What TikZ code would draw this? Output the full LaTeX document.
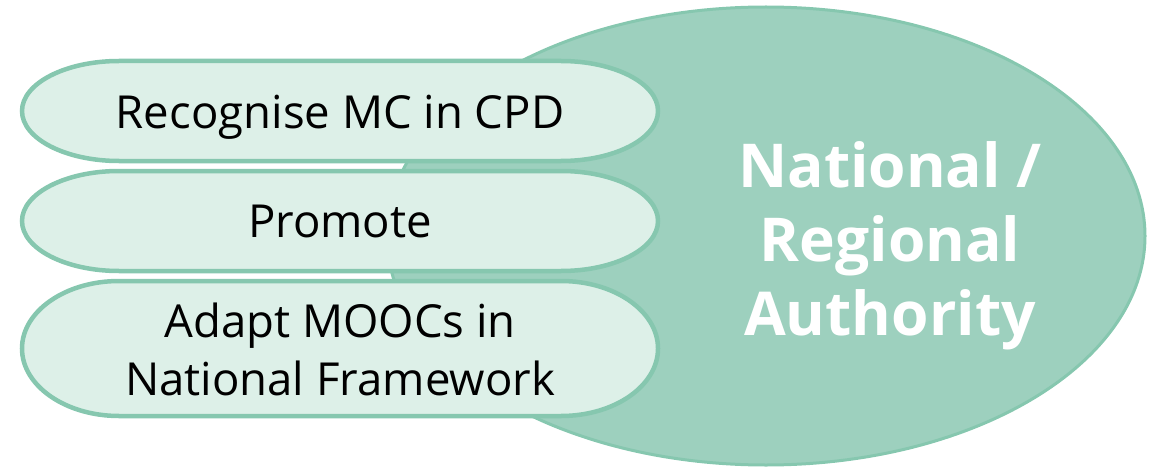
\documentclass[tikz,border=0pt]{standalone}
\usepackage{fontspec}
\setmainfont{Open Sans}
\usetikzlibrary{shapes.geometric}
\definecolor{mintfill}{HTML}{DDF0E8}
\definecolor{mintline}{HTML}{86C7AF}
\definecolor{authfill}{HTML}{9DD0BE}
\tikzset{
  pill/.style={draw=mintline, fill=mintfill, line width=4.5pt},
  pilltext/.style={anchor=base, align=center, font=\fontsize{45.5}{58}\selectfont, text=black},
  authority/.style={ellipse, draw=mintline, fill=authfill, line width=3pt, inner sep=0pt},
}
\begin{document}
\begin{tikzpicture}[x=1pt, y=1pt]
  \useasboundingbox (0,0) rectangle (1155,472);
  % big ellipse behind the pills
  \node[authority, minimum width=758pt, minimum height=458pt] (auth) at (766,236) {};
  \node[anchor=base, align=center, text=white, font=\bfseries\fontsize{60.5}{74}\selectfont] (authtext) at (890,137) {National /\\Regional\\Authority};
  % the three pills: centre y / half height
  \foreach \cy/\ry in {361/50, 251/50, 123.5/67.5}{
    \draw[pill] (119,\cy+\ry) -- (561,\cy+\ry)
      arc[start angle=90, end angle=-90, x radius=97, y radius=\ry]
      -- (119,\cy-\ry)
      arc[start angle=270, end angle=90, x radius=97, y radius=\ry] -- cycle;
  }
  \node[pilltext] (cpd) at (340,343) {Recognise MC in CPD};
  \node[pilltext] (promote) at (340,235) {Promote};
  \node[pilltext] (moocs) at (340,77) {Adapt MOOCs in\\National Framework};
\end{tikzpicture}
\end{document}
